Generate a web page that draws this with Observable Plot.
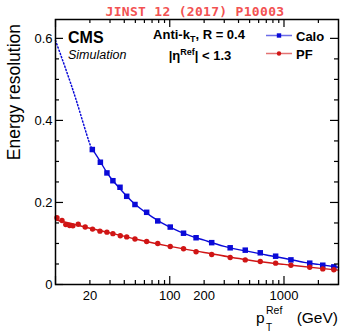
<!DOCTYPE html>
<html><head><meta charset="utf-8">
<script src="https://cdn.jsdelivr.net/npm/d3@7"></script>
<script src="https://cdn.jsdelivr.net/npm/@observablehq/plot@0.6"></script>
<style>body{margin:0;background:#fff} svg{display:block}</style>
</head><body><div id="chart"></div>
<script>
// Calo (PF) points
const caloPt  = [21.0, 24.7, 28.2, 31.8, 36.7, 42.0, 49.6, 62.8, 78.5, 101, 132, 170, 233, 338, 458, 620, 845, 1150, 1680, 2185, 2730];
const caloRes = [0.329, 0.298, 0.272, 0.253, 0.237, 0.215, 0.195, 0.176, 0.155, 0.140, 0.125, 0.114, 0.102, 0.0895, 0.0837, 0.0773, 0.069, 0.060, 0.052, 0.047, 0.043];
const pfPt  = [10.3, 11.4, 12.3, 13.3, 14.2, 15.8, 18.2, 21.1, 24.5, 28.2, 31.8, 36.9, 42.0, 49.6, 62.8, 78.5, 101, 132, 170, 233, 338, 458, 620, 845, 1150, 1680, 2185, 2730];
const pfRes = [0.163, 0.156, 0.146, 0.144, 0.143, 0.147, 0.140, 0.135, 0.130, 0.1276, 0.124, 0.119, 0.116, 0.111, 0.105, 0.100, 0.0927, 0.087, 0.080, 0.073, 0.066, 0.060, 0.056, 0.052, 0.047, 0.042, 0.038, 0.036];
// fitted curves
const caloFitDotPt  = [10, 13.3, 16.2, 19.5, 21];
const caloFitDotRes = [0.595, 0.498, 0.424, 0.351, 0.330];
const caloFitPt  = [21, 25, 30, 40, 50, 70, 100, 150, 200, 300, 500, 700, 1000, 1500, 2000, 3000];
const caloFitRes = [0.330, 0.297, 0.262, 0.222, 0.195, 0.165, 0.140, 0.119, 0.108, 0.093, 0.080, 0.072, 0.064, 0.054, 0.049, 0.042];
const pfFitPt  = [10, 15, 20, 30, 50, 100, 200, 500, 1000, 2000, 3000];
const pfFitRes = [0.158, 0.146, 0.137, 0.126, 0.111, 0.093, 0.078, 0.059, 0.049, 0.040, 0.035];
// axis ticks
const xMajor = [10, 100, 1000];
const xMinor = [20,30,40,50,60,70,80,90,200,300,400,500,600,700,800,900,2000];
const xLabels = [20, 100, 200, 1000];
const yMajor = [0, 0.2, 0.4, 0.6];
const yMinor = [0.05,0.1,0.15,0.25,0.3,0.35,0.45,0.5,0.55];

const W = 341, H = 333, ML = 55, MR = 3, MT = 19, MB = 49;
const FW = W - ML - MR, FH = H - MT - MB;
const BLUE = "#0a0ad8", RED = "#d01515";
const FONT = "'Liberation Sans', Arial, Helvetica, sans-serif";
const zip = (a, b) => a.map((v, i) => ({x: v, y: b[i]}));
const id = d => d;

const chart = Plot.plot({
  width: W, height: H,
  marginLeft: ML, marginRight: MR, marginTop: MT, marginBottom: MB,
  style: {fontFamily: FONT, fontSize: "13px", color: "#000", background: "#fff"},
  x: {type: "log", domain: [10, 3000], axis: null},
  y: {domain: [0, 0.646], axis: null},
  marks: [
    Plot.line(zip(caloFitDotPt, caloFitDotRes), {x: "x", y: "y", stroke: BLUE, strokeWidth: 1.5, strokeDasharray: "1.2,2.2", curve: "natural"}),
    Plot.line(zip(caloFitPt, caloFitRes), {x: "x", y: "y", stroke: BLUE, strokeWidth: 1.4, curve: "natural"}),
    Plot.line(zip(pfFitPt, pfFitRes), {x: "x", y: "y", stroke: RED, strokeWidth: 1.4, curve: "natural"}),
    Plot.dot(zip(caloPt, caloRes), {x: "x", y: "y", symbol: "square", r: 3.1, fill: BLUE}),
    Plot.dot(zip(pfPt, pfRes), {x: "x", y: "y", symbol: "circle", r: 2.7, fill: RED}),
    // inward ticks on all four sides
    Plot.tickX(xMajor, {x: id, insetTop: FH - 8, stroke: "#000", strokeWidth: 1.2}),
    Plot.tickX(xMinor, {x: id, insetTop: FH - 4, stroke: "#000", strokeWidth: 1.2}),
    Plot.tickX(xMajor, {x: id, insetBottom: FH - 8, stroke: "#000", strokeWidth: 1.2}),
    Plot.tickX(xMinor, {x: id, insetBottom: FH - 4, stroke: "#000", strokeWidth: 1.2}),
    Plot.tickY(yMajor, {y: id, insetRight: FW - 8, stroke: "#000", strokeWidth: 1.2}),
    Plot.tickY(yMinor, {y: id, insetRight: FW - 4, stroke: "#000", strokeWidth: 1.2}),
    Plot.tickY(yMajor, {y: id, insetLeft: FW - 8, stroke: "#000", strokeWidth: 1.2}),
    Plot.tickY(yMinor, {y: id, insetLeft: FW - 4, stroke: "#000", strokeWidth: 1.2}),
    Plot.frame({stroke: "#000", strokeWidth: 1.5}),
    // tick labels
    Plot.text(xLabels, {x: id, text: d3.format("d"), frameAnchor: "bottom", lineAnchor: "top", dy: 6, fontSize: 13, fill: "#000"}),
    Plot.text(yMajor, {y: id, text: d => d === 0 ? "0" : d3.format(".1f")(d), frameAnchor: "left", textAnchor: "end", dx: -3, fontSize: 13, fill: "#000"})
  ]
});
document.getElementById("chart").appendChild(chart);

const svg = d3.select(chart);
function txt(x, y, opts) {
  const t = svg.append("text").attr("x", x).attr("y", y)
    .attr("font-family", opts.family || FONT)
    .attr("font-size", opts.size)
    .attr("font-weight", opts.weight || "normal")
    .attr("font-style", opts.style || "normal")
    .attr("text-anchor", opts.anchor || "start")
    .attr("fill", opts.fill || "#000");
  if (opts.ls) t.attr("letter-spacing", opts.ls);
  if (opts.transform) t.attr("transform", opts.transform);
  return t;
}
// header
txt(195, 16, {size: 13, weight: "bold", family: "'DejaVu Sans Mono', monospace", anchor: "middle", fill: "#f25252", ls: 0.3}).text("JINST 12 (2017) P10003");
// CMS labels
txt(68, 43, {size: 16, weight: "bold"}).text("CMS");
txt(68, 59, {size: 12.5, style: "italic"}).text("Simulation");
// jet info
const t1 = txt(199, 39, {size: 13, weight: "bold", anchor: "middle"});
t1.append("tspan").text("Anti-k");
t1.append("tspan").attr("font-size", 9).attr("dy", 3).text("T");
t1.append("tspan").attr("dy", -3).text(", R = 0.4");
const t2 = txt(200, 60, {size: 13, weight: "bold", anchor: "middle"});
t2.append("tspan").text("|η");
t2.append("tspan").attr("font-size", 9).attr("dy", -5).text("Ref");
t2.append("tspan").attr("dy", 5).text("| < 1.3");
// legend
svg.append("line").attr("x1", 266).attr("x2", 292).attr("y1", 35.5).attr("y2", 35.5).attr("stroke", BLUE).attr("stroke-opacity", 0.6).attr("stroke-width", 1.5);
svg.append("rect").attr("x", 276.8).attr("y", 33.3).attr("width", 4.4).attr("height", 4.4).attr("fill", BLUE);
txt(296, 40.5, {size: 13, weight: "bold"}).text("Calo");
svg.append("line").attr("x1", 266).attr("x2", 292).attr("y1", 53.5).attr("y2", 53.5).attr("stroke", RED).attr("stroke-opacity", 0.6).attr("stroke-width", 1.5);
svg.append("circle").attr("cx", 279).attr("cy", 53.5).attr("r", 2.2).attr("fill", RED);
txt(296, 58.5, {size: 13, weight: "bold"}).text("PF");
// axis titles
txt(19.5, 24, {size: 17.5, anchor: "end", transform: "rotate(-90,19.5,24)"}).text("Energy resolution");
txt(256, 323, {size: 15.5}).text("p");
txt(266, 331, {size: 10}).text("T");
txt(266, 314, {size: 10.5}).text("Ref");
txt(338, 323, {size: 15.5, anchor: "end"}).text("(GeV)");
</script>
</body></html>
